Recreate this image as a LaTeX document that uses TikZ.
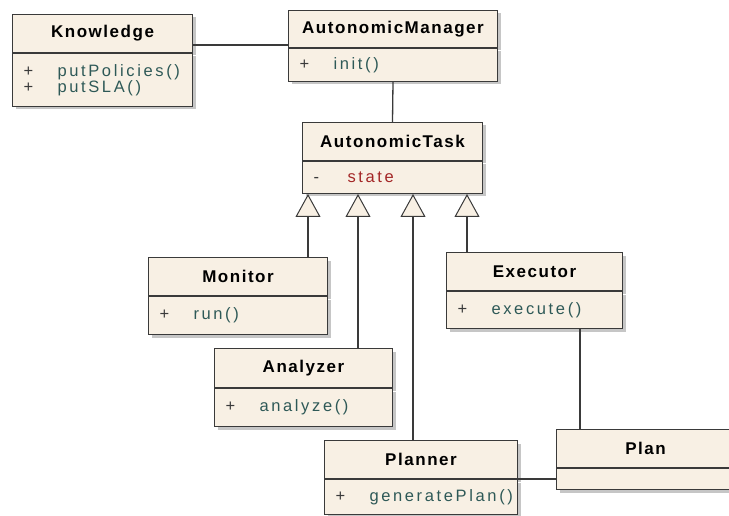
\documentclass[tikz,border=0pt]{standalone}
\usepackage{fontspec}
\setmainfont{Liberation Sans}
\newfontfamily\umlhead[LetterSpace=9]{Liberation Sans}
\newfontfamily\umlbody[LetterSpace=16]{Liberation Sans}
\usetikzlibrary{arrows.meta,shadows,calc}

\definecolor{classfill}{HTML}{F8F0E4}
\definecolor{classline}{HTML}{3A3A3A}
\definecolor{opcol}{HTML}{2E5957}
\definecolor{attrcol}{HTML}{A32626}

% visibility marker, then the member name
\newcommand{\member}[2]{\makebox[34pt][l]{\textcolor{classline}{#1}}#2}

\tikzset{
  classhead/.style={
    draw=classline,
    fill=classfill,
    line width=1pt,
    anchor=north west,
    inner sep=0pt,
    minimum height=38pt,
    font=\umlhead\bfseries\fontsize{17}{18}\selectfont,
    drop shadow={shadow xshift=3pt, shadow yshift=-3pt, fill=black!50, opacity=0.45}
  },
  classbody/.style={
    draw=classline,
    fill=classfill,
    line width=1pt,
    anchor=north west,
    inner xsep=11pt,
    inner ysep=0pt,
    align=left,
    text=opcol,
    font=\umlbody\fontsize{16.5}{15}\selectfont,
    drop shadow={shadow xshift=3pt, shadow yshift=-3pt, fill=black!50, opacity=0.45}
  },
  assoc/.style={
    draw=classline,
    line width=1.3pt
  },
  gen/.style={
    assoc,
    -{Triangle[length=23pt,width=25pt,fill=classfill,line width=1pt]}
  }
}

\begin{document}
\begin{tikzpicture}[x=1pt,y=-1pt]
  \useasboundingbox (0,0) rectangle (729,516);
  \clip (0,0) rectangle (729,516);

  % classes
  \node[classhead, minimum width=180pt] (kn) at (12,14) {Knowledge};
  \node[classbody, text width=158pt, minimum height=53pt] (knb) at (kn.south west)
    {\member{+}{putPolicies()}\\\member{+}{putSLA()}};

  \node[classhead, minimum width=209pt, minimum height=37pt] (am) at (288,10) {AutonomicManager};
  \node[classbody, text width=187pt, minimum height=33pt] (amb) at (am.south west)
    {\member{+}{init()}};

  \node[classhead, minimum width=180pt] (at) at (302,122) {AutonomicTask};
  \node[classbody, text width=158pt, minimum height=32pt, text=attrcol] (atb) at (at.south west)
    {\member{-}{state}};

  \node[classhead, minimum width=179pt] (mon) at (148,257) {Monitor};
  \node[classbody, text width=157pt, minimum height=38pt] (monb) at (mon.south west)
    {\member{+}{run()}};

  \node[classhead, minimum width=176pt] (ex) at (446,252) {Executor};
  \node[classbody, text width=154pt, minimum height=37pt] (exb) at (ex.south west)
    {\member{+}{execute()}};

  \node[classhead, minimum width=178pt, minimum height=39pt] (an) at (214,348) {Analyzer};
  \node[classbody, text width=156pt, minimum height=38pt] (anb) at (an.south west)
    {\member{+}{analyze()}};

  \node[classhead, minimum width=193pt] (pn) at (324,440) {Planner};
  \node[classbody, text width=171pt, minimum height=35pt] (pnb) at (pn.south west)
    {\member{+}{generatePlan()}};

  \node[classhead, minimum width=178pt] (pl) at (556,429) {Plan};
  \node[classbody, text width=156pt, minimum height=21pt] (plb) at (pl.south west) {};

  % associations
  \draw[assoc] (kn.east |- 0,45) -- (am.west |- 0,45);
  \draw[assoc] (amb.south) -- (at.north);
  \draw[assoc] (exb.south -| 580,0) -- (pl.north -| 580,0);
  \draw[assoc] (plb.west) -- (plb.west -| pnb.east);

  % generalizations
  \draw[gen] (mon.north -| 308,0) -- (atb.south -| 308,0);
  \draw[gen] (an.north -| 358,0) -- (atb.south -| 358,0);
  \draw[gen] (pn.north -| 413,0) -- (atb.south -| 413,0);
  \draw[gen] (ex.north -| 467,0) -- (atb.south -| 467,0);
\end{tikzpicture}
\end{document}
